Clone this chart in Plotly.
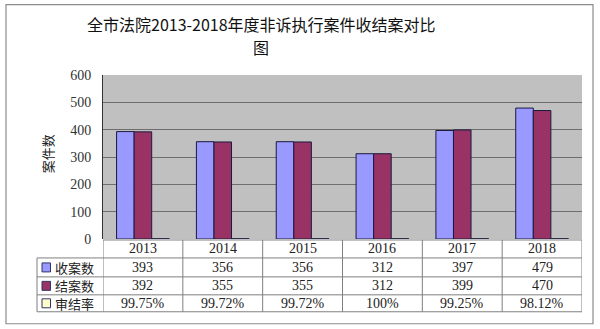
import plotly.graph_objects as go

# Data
years = ["2013", "2014", "2015", "2016", "2017", "2018"]
received = [393, 356, 356, 312, 397, 479]
closed = [392, 355, 355, 312, 399, 470]
close_rate = [0.9975, 0.9972, 0.9972, 1.0, 0.9925, 0.9812]
rate_labels = ["99.75%", "99.72%", "99.72%", "100%", "99.25%", "98.12%"]
series_names = ["收案数", "结案数", "审结率"]
series_colors = ["#9999FF", "#993366", "#FFFFCC"]
title_lines = ["全市法院2013-2018年度非诉执行案件收结案对比", "图"]

W, H = 600, 329
L, R, T, B = 103, 18, 74.5, 90
PW, PH = W - L - R, H - T - B

def px(xp):
    return (xp - L) / PW

def py(yp):
    return (H - B - yp) / PH

serif = "Liberation Serif, Noto Sans CJK SC"
cjk = "Noto Sans CJK SC"

fig = go.Figure()
for name, vals, col in zip(series_names, [received, closed, close_rate], series_colors):
    fig.add_trace(go.Bar(
        x=years, y=vals, name=name,
        marker=dict(color=col, line=dict(color="#1a1a40", width=1)),
        showlegend=False,
    ))

shapes = []
line_col = "#7f7f7f"
# outer frame
shapes.append(dict(type="rect", xref="paper", yref="paper",
                   x0=px(6), x1=px(593), y0=py(324), y1=py(4),
                   line=dict(color="#8c8c8c", width=1.2), layer="below"))
# table horizontal lines
row_lines = [240, 258, 277, 295, 312]
for i, yl in enumerate(row_lines):
    x0 = px(103) if i == 0 else px(37)
    shapes.append(dict(type="line", xref="paper", yref="paper",
                       x0=x0, x1=px(582), y0=py(yl), y1=py(yl),
                       line=dict(color=line_col, width=1)))
# table vertical lines
shapes.append(dict(type="line", xref="paper", yref="paper",
                   x0=px(37), x1=px(37), y0=py(258), y1=py(312),
                   line=dict(color=line_col, width=1)))
for k in range(len(years) + 1):
    xx = k - 0.5
    shapes.append(dict(type="line", xref="x", yref="paper",
                       x0=xx, x1=xx, y0=py(240), y1=py(312),
                       line=dict(color=line_col, width=1)))

annotations = []
row_y = [249, 267.5, 286, 303.5]
row_vals = [years, [str(v) for v in received], [str(v) for v in closed], rate_labels]
for r, vals in enumerate(row_vals):
    for i, v in enumerate(vals):
        annotations.append(dict(x=i, y=py(row_y[r]), xref="x", yref="paper",
                                xanchor="center", yanchor="middle",
                                text=v, showarrow=False,
                                font=dict(family=serif, size=14, color="#222")))
# row headers with colour keys
for r, (name, col) in enumerate(zip(series_names, series_colors)):
    yc = row_y[r + 1]
    shapes.append(dict(type="rect", xref="paper", yref="paper",
                       x0=px(42), x1=px(50.5), y0=py(yc + 4.5), y1=py(yc - 4.5),
                       fillcolor=col, line=dict(color="#333366", width=1)))
    annotations.append(dict(x=px(53), y=py(yc), xref="paper", yref="paper",
                            text=name, showarrow=False,
                            xanchor="left", yanchor="middle",
                            font=dict(family=cjk, size=13, color="#222")))

# y-axis title
annotations.append(dict(x=px(47), y=py(154), xref="paper", yref="paper",
                        xanchor="center", yanchor="middle",
                        text="案件数", showarrow=False, textangle=-90,
                        font=dict(family=cjk, size=13, color="#222")))
# chart title, two lines
for line, yc in zip(title_lines, [23.5, 46]):
    annotations.append(dict(x=px(261), y=py(yc), xref="paper", yref="paper",
                            xanchor="center", yanchor="middle",
                            text=line, showarrow=False,
                            font=dict(family=cjk, size=16, color="#111")))

fig.update_layout(
    width=W, height=H,
    margin=dict(l=L, r=R, t=T, b=B),
    paper_bgcolor="white",
    plot_bgcolor="#C0C0C0",
    barmode="group",
    bargap=0.34,
    bargroupgap=0,
    shapes=shapes,
    annotations=annotations,
    xaxis=dict(showticklabels=False, showgrid=False, zeroline=False,
               showline=False, range=[-0.5, 5.5]),
    yaxis=dict(range=[0, 600], dtick=100, showgrid=True,
               gridcolor="#6e6e6e", gridwidth=1, zeroline=False,
               showline=True, linecolor="#333", linewidth=1,
               ticks="", ticklabelstandoff=8,
               tickfont=dict(family=serif, size=14, color="#333"),
               mirror=False),
)

fig.write_html("out.html")
